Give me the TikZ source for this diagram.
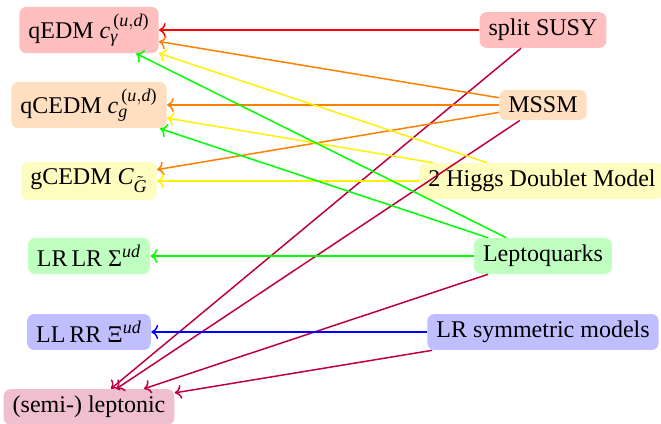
\documentclass[tikz,border=0pt]{standalone}
\usepackage{amsmath}
\usepackage{fontspec}
\setmainfont{Liberation Serif}
\usetikzlibrary{arrows.meta}
\DeclareMathSizes{12}{12}{9}{7}
\newcommand{\ti}[1]{\textit{#1}}
\begin{document}
\begin{tikzpicture}[x=0.5pt,y=-0.5pt,
  box/.style={rounded corners=3.5pt, inner xsep=4.5pt, inner ysep=3.5pt,
    font=\fontsize{12}{14}\selectfont, text=black},
  link/.style={-{To[length=3.4pt,width=7pt]}, line width=0.75pt}]
\useasboundingbox (0,0) rectangle (661,424);

% observables (left column)
\node[box, fill=red!25]    (qedm)  at (89,30)  {qEDM $\ti{c}^{\,\textnormal{(}\ti{u},\ti{d}\textnormal{)}}_{\ti{γ}}$};
\node[box, fill=orange!25] (qcedm) at (89,105) {qCEDM $\ti{c}^{\,\textnormal{(}\ti{u},\ti{d}\textnormal{)}}_{\ti{g}}$};
\node[box, fill=yellow!25] (gcedm) at (89,181) {gCEDM $\ti{C}_{\tilde{\ti{G}}}$};
\node[box, fill=green!25]  (lrlr)  at (89,256) {LR\,LR $\textnormal{Σ}^{\ti{ud}}$};
\node[box, fill=blue!25]   (llrr)  at (89,332) {LL\,RR $\textnormal{Ξ}^{\ti{ud}}$};
\node[box, fill=purple!25] (lept)  at (89,407) {(semi-) leptonic};

% models (right column)
\node[box, fill=red!25]    (susy)  at (543,30)  {split SUSY};
\node[box, fill=orange!25] (mssm)  at (543,105) {MSSM};
\node[box, fill=yellow!25] (thdm)  at (542,181) {2 Higgs Doublet Model};
\node[box, fill=green!25]  (lq)    at (543,256) {Leptoquarks};
\node[box, fill=blue!25]   (lrsym) at (543,332) {LR symmetric models};

% connections
\draw[link, red]    (susy) -- (qedm);
\draw[link, purple] (susy) -- (lept);

\draw[link, orange] (mssm) -- (qedm);
\draw[link, orange] (mssm) -- (qcedm);
\draw[link, orange] (mssm) -- (gcedm);
\draw[link, purple] (mssm) -- (lept);

\draw[link, yellow] (thdm) -- (qedm);
\draw[link, yellow] (thdm) -- (qcedm);
\draw[link, yellow] (thdm) -- (gcedm);

\draw[link, green]  (lq) -- (qedm);
\draw[link, green]  (lq) -- (qcedm);
\draw[link, green]  (lq) -- (lrlr);
\draw[link, purple] (lq) -- (lept);

\draw[link, blue]   (lrsym) -- (llrr);
\draw[link, purple] (lrsym) -- (lept);
\end{tikzpicture}
\end{document}
